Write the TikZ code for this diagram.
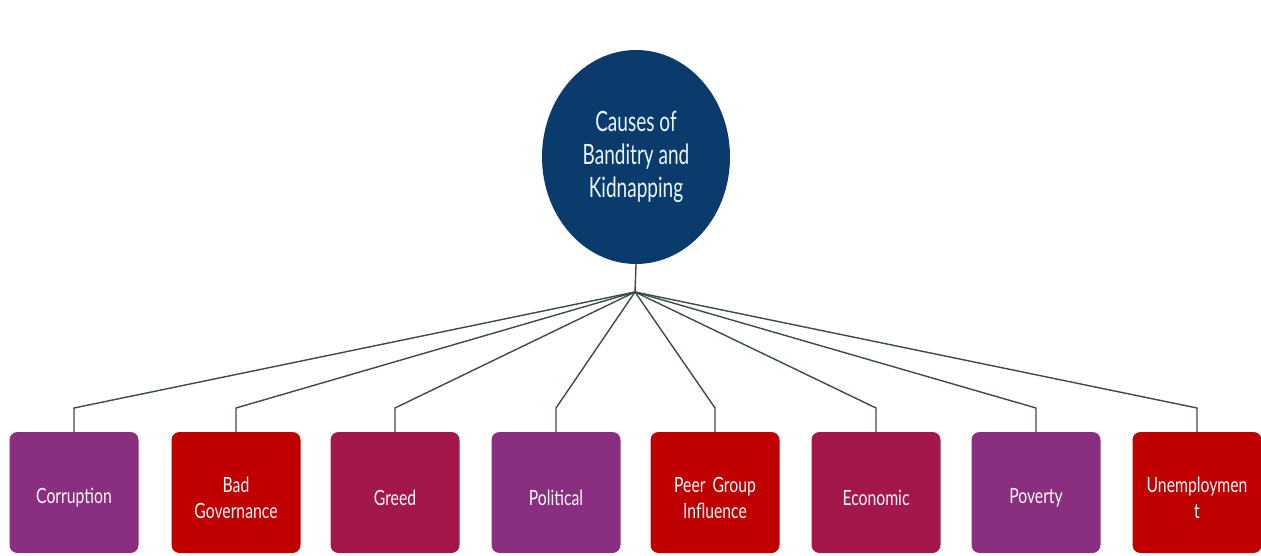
\documentclass[tikz,border=0pt]{standalone}
\usepackage{fontspec}
\newfontfamily\cfont[FakeStretch=0.68]{Lato}
\newfontfamily\bfont[FakeStretch=0.75]{Lato}
\usetikzlibrary{shapes.geometric}
\definecolor{navy}{HTML}{0B3B6C}
\definecolor{cpurple}{HTML}{8A2F7F}
\definecolor{cred}{HTML}{C00000}
\definecolor{ccrimson}{HTML}{A3174C}
\definecolor{lnk}{HTML}{3E4A4A}
\tikzset{
  rootnode/.style={ellipse, fill=navy, minimum width=188pt, minimum height=214pt, inner sep=0pt, text=white!90!cyan, align=center, font=\cfont\fontsize{28}{33}\selectfont},
  cbox/.style={rounded corners=8pt, minimum width=129pt, minimum height=121pt, inner sep=0pt},
  ctext/.style={inner sep=0pt, text width=124pt, text=white!90!pink, align=center, font=\bfont\fontsize{21}{26}\selectfont},
  link/.style={draw=lnk, line width=1.4pt},
}
\begin{document}
\begin{tikzpicture}[x=1pt,y=1pt]
\useasboundingbox (0,0) rectangle (1261,555);
\node[rootnode] (root) at (636,398) {Causes of\\Banditry and\\Kidnapping};
\coordinate (hub) at (635,263);
\foreach \n/\x/\c/\t in {c1/74/cpurple/Corruption, c2/236/cred/{Bad\\Governance}, c3/395/ccrimson/Greed, c4/556/cpurple/Political, c5/715/cred/{Peer Group\\Influence}, c6/876/ccrimson/Economic, c7/1036/cpurple/Poverty, c8/1197/cred/{Unemploymen\\t}}{
  \node[cbox, fill=\c] (\n) at (\x,62.5) {};
  \node[ctext] (\n t) at ([yshift=-5pt]\n.center) {\t};
  \coordinate (s\n) at (\x,147);
  \draw[link] (hub) -- (s\n) -- (\n.north);
}
\draw[link] (root.south) -- (hub);
\end{tikzpicture}
\end{document}
